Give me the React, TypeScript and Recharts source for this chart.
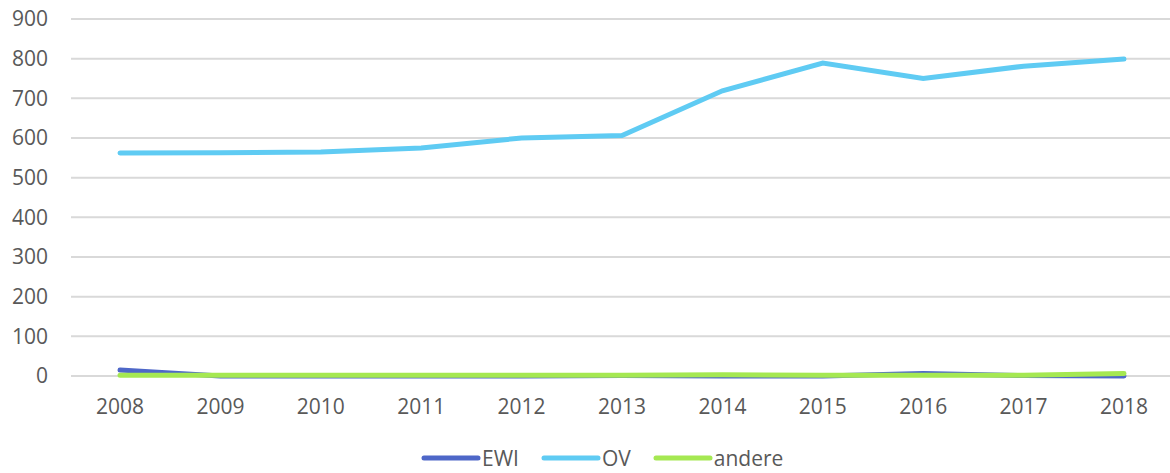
import React from 'react';
import { LineChart, Line, XAxis, YAxis, CartesianGrid, Legend } from 'recharts';

const years = ['2008', '2009', '2010', '2011', '2012', '2013', '2014', '2015', '2016', '2017', '2018'];
const ewi = [15, 0, 0, 0, 0, 1, 0, 0, 6, 1, 0];
const ov = [562, 563, 565, 575, 600, 606, 719, 789, 750, 781, 799];
const andere = [2, 2, 2, 2, 2, 2, 3, 2, 2, 2, 6];
const yTicks = [0, 100, 200, 300, 400, 500, 600, 700, 800, 900];

const seriesNames = ['EWI', 'OV', 'andere'];
const seriesColors = ['#4E67C8', '#5FCBF3', '#A5E852'];

const data = years.map((y, i) => ({ year: y, EWI: ewi[i], OV: ov[i], andere: andere[i] }));

const FONT = '"Open Sans", "DejaVu Sans", sans-serif';
const TEXT = '#595959';

const LegendContent = () => (
  <div style={{ display: 'flex', alignItems: 'center', marginLeft: 421, fontFamily: FONT, fontSize: 21, color: TEXT }}>
    {seriesNames.map((n, i) => (
      <div key={n} style={{ display: 'flex', alignItems: 'center', marginRight: 22 }}>
        <svg width={60} height={10} style={{ display: 'block' }}>
          <line x1={3} y1={5} x2={57} y2={5} stroke={seriesColors[i]} strokeWidth={5} strokeLinecap="round" />
        </svg>
        <span style={{ marginLeft: 1 }}>{n}</span>
      </div>
    ))}
  </div>
);

export default function App() {
  return (
    <div style={{ position: 'absolute', left: 0, top: 0, width: 1170, height: 473, background: '#fff', overflow: 'hidden' }}>
      <LineChart width={1170} height={473} data={data} margin={{ top: 19, right: 0, left: 0, bottom: 39 }}>
        <CartesianGrid vertical={false} stroke="#D9D9D9" strokeWidth={2} />
        <XAxis
          dataKey="year"
          axisLine={false}
          tickLine={false}
          tickSize={0}
          tickMargin={23}
          padding={{ left: 49, right: 46 }}
          interval={0}
          tick={{ fill: TEXT, fontSize: 21, fontFamily: FONT }}
        />
        <YAxis
          width={71}
          domain={[0, 900]}
          ticks={yTicks}
          axisLine={false}
          tickLine={false}
          tickSize={0}
          tickMargin={23}
          interval={0}
          tick={{ fill: TEXT, fontSize: 21, fontFamily: FONT }}
        />
        <Legend content={<LegendContent />} wrapperStyle={{ left: 0, top: 444, width: 1170 }} />
        {seriesNames.map((n, i) => (
          <Line
            key={n}
            type="linear"
            dataKey={n}
            stroke={seriesColors[i]}
            strokeWidth={5}
            strokeLinecap="round"
            dot={false}
            activeDot={false}
            isAnimationActive={false}
          />
        ))}
      </LineChart>
    </div>
  );
}
